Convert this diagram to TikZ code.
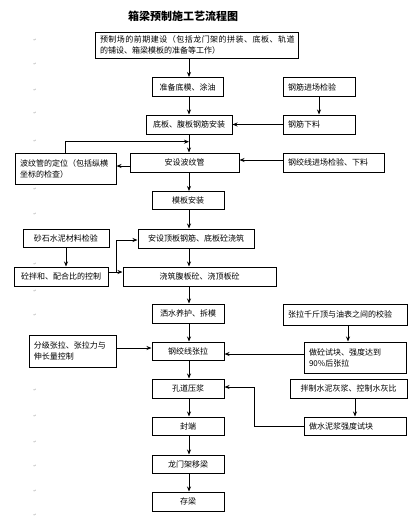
\documentclass[tikz,border=0pt]{standalone}
\usepackage{fontspec}
\setmainfont{Noto Sans CJK SC}
\newfontfamily\markfont{DejaVu Sans}
\newfontfamily\widefont[LetterSpace=6]{Noto Sans CJK SC}
\usetikzlibrary{arrows.meta,calc}
\begin{document}
\begin{tikzpicture}[x=1pt,y=-1pt]
        \tikzstyle{box}=[draw, line width=1pt, minimum height=19pt, inner sep=2pt, font=\fontsize{8}{11}\selectfont]
        \tikzstyle{lbox}=[box, align=left, inner xsep=5pt]
        \tikzstyle{arr}=[line width=1pt, -{Stealth[length=5pt,width=4pt]}]
        \tikzstyle{pmark}=[text=gray!70, font=\markfont\fontsize{4}{4}\selectfont, inner sep=0pt]
        \useasboundingbox (0,0) rectangle (412,517);
        \foreach \y in {40,64,90,113,141,189,214,264,291,315,390,416,442,466,491,515}
            \node[pmark] at (35,\y) {↵};
        \node[font=\bfseries\fontsize{11}{11}\selectfont] (title) at (183,16) {箱梁预制施工艺流程图};
        \node[lbox, text width=193pt, minimum height=26pt] (pre) at (196.5,45)
            {{\widefont 预制场的前期建设（包括龙门架的拼装、底板、轨道}\\的铺设、箱梁模板的准备等工作）};
        \node[box, minimum width=71pt] (mould) at (187.5,87) {准备底模、涂油};
        \node[lbox, text width=62pt] (steelin) at (319,87) {钢筋进场检验};
        \node[box, minimum width=86pt] (rebar) at (189,124.5) {底板、腹板钢筋安装};
        \node[lbox, text width=62pt] (cut) at (319,124.5) {钢筋下料};
        \node[box, minimum width=109pt] (duct) at (184.5,162.5) {安设波纹管};
        \node[lbox, text width=91pt, minimum height=31pt] (ductpos) at (65.5,168.5)
            {波纹管的定位（包括纵横\\坐标的检查）};
        \node[lbox, text width=91pt] (strand) at (333.5,162.5) {钢绞线进场检验、下料};
        \node[box, minimum width=72pt, minimum height=18pt] (form) at (188,200.5) {模板安装};
        \node[box, minimum width=116pt] (top) at (196,238.5) {安设顶板钢筋、底板砼浇筑};
        \node[box, minimum width=86pt, minimum height=18pt] (sand) at (66,238) {砂石水泥材料检验};
        \node[box, minimum width=94pt] (mix) at (61,276.5) {砼拌和、配合比的控制};
        \node[box, minimum width=153pt] (pour) at (199.5,276.5) {浇筑腹板砼、浇顶板砼};
        \node[box, minimum width=72pt] (cure) at (188,313.5) {洒水养护、拆模};
        \node[lbox, text width=114pt, minimum height=21pt] (jack) at (345,314.5) {张拉千斤顶与油表之间的校验};
        \node[lbox, text width=77pt, minimum height=32pt] (stage) at (72.5,351)
            {分级张拉、张拉力与\\伸长量控制};
        \node[box, minimum width=72pt, minimum height=18pt] (tension) at (188,351) {钢绞线张拉};
        \node[lbox, text width=92pt, minimum height=31pt] (cube) at (355,357.5)
            {做砼试块、强度达到\\90\%后张拉};
        \node[box, minimum width=72pt] (grout) at (188,388.5) {孔道压浆};
        \node[box, minimum width=117pt] (slurry) at (348.5,388.5) {拌制水泥灰浆、控制水灰比};
        \node[lbox, text width=92pt, minimum height=18pt] (slurcube) at (355,426) {做水泥浆强度试块};
        \node[box, minimum width=72pt, minimum height=18pt] (seal) at (188,426) {封端};
        \node[box, minimum width=72pt, minimum height=18pt] (move) at (188,464) {龙门架移梁};
        \node[box, minimum width=72pt] (store) at (188,501.5) {存梁};
        \coordinate (spine) at (189,0);
        \draw[arr] (pre.south -| spine) -- (mould.north -| spine);
        \draw[arr] (mould.south -| spine) -- (rebar.north -| spine);
        \draw[arr] (steelin.south) -- (cut.north);
        \draw[arr] (cut.west) -- (rebar.east);
        \draw[arr] (rebar.south -| spine) -- (duct.north -| spine);
        \draw[arr] (ductpos.north) |- ($(rebar.south -| spine)!0.4!(duct.north -| spine)$);
        \draw[arr] ([yshift=-3.5pt]duct.west) -- ([yshift=-3.5pt]duct.west -| ductpos.east);
        \draw[arr] ([yshift=2.5pt]strand.west) -- ([yshift=2.5pt]strand.west -| duct.east);
        \draw[arr] (duct.south -| spine) -- (form.north -| spine);
        \draw[arr] (form.south -| spine) -- (top.north -| spine);
        \draw[arr] (sand.south) -- (mix.north -| sand.south);
        \coordinate (mixout) at ([yshift=4.5pt]mix.east);
        \coordinate (mixjoin) at ($(mixout)+(8,0)$);
        \draw[arr] (mixout) -- (mixout -| pour.west);
        \draw[arr] (mixjoin) |- ([yshift=-1.5pt]top.west);
        \draw[arr] (top.south -| spine) -- (pour.north -| spine);
        \draw[arr] (pour.south -| spine) -- (cure.north -| spine);
        \draw[arr] (cure.south -| spine) -- (tension.north -| spine);
        \draw[arr] (jack.south -| 348,0) -- (cube.north -| 348,0);
        \draw[arr] ([yshift=3pt]stage.east) -- ([yshift=3pt]stage.east -| tension.west);
        \draw[arr] ([yshift=3.5pt]cube.west) -- ([yshift=3.5pt]cube.west -| tension.east);
        \draw[arr] (tension.south -| spine) -- (grout.north -| spine);
        \draw[arr] (slurry.south -| 355,0) -- (slurcube.north -| 355,0);
        \coordinate (groutjoin) at ([yshift=1.5pt]grout.east -| 254,0);
        \draw[arr] (slurcube.west) -| (groutjoin) -- ([yshift=1.5pt]grout.east);
        \draw[arr] (grout.south -| spine) -- (seal.north -| spine);
        \draw[arr] (seal.south -| spine) -- (move.north -| spine);
        \draw[arr] (move.south -| spine) -- (store.north -| spine);
\end{tikzpicture}
\end{document}
